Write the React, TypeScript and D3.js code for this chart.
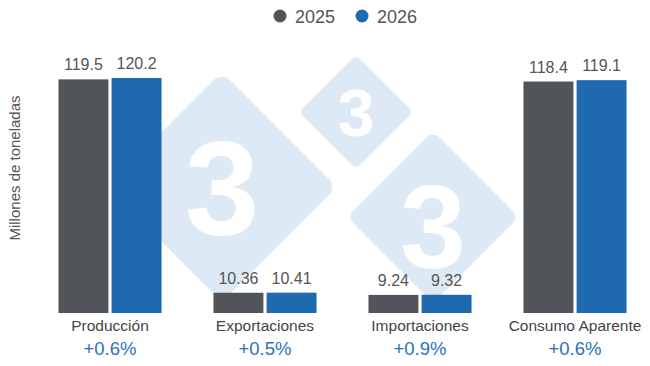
import React, { useEffect, useRef } from 'react'
import * as d3 from 'd3'

const categories = ['Producción', 'Exportaciones', 'Importaciones', 'Consumo Aparente']
const years = ['2025', '2026']
const values2025 = [119.5, 10.36, 9.24, 118.4]
const values2026 = [120.2, 10.41, 9.32, 119.1]
const changes = ['+0.6%', '+0.5%', '+0.9%', '+0.6%']
const labels2025 = ['119.5', '10.36', '9.24', '118.4']
const labels2026 = ['120.2', '10.41', '9.32', '119.1']

const colors = ['#515458', '#1f69af']
const font = 'Arial, "Liberation Sans", sans-serif'

// background logo (decoration only)
const logo = [
  { cx: 222, cy: 187, d: 115, size: 134, ty: 48 },
  { cx: 356, cy: 112, d: 57, size: 66, ty: 24 },
  { cx: 433, cy: 217, d: 86, size: 118, ty: 51 },
]

const App: React.FC = () => {
  const svgRef = useRef<SVGSVGElement | null>(null)

  useEffect(() => {
    if (!svgRef.current) return
    const svg = d3.select(svgRef.current)
    svg.selectAll('*').remove()

    const width = 650
    const height = 366
    const margin = { left: 32.5, right: -2.5, top: 78, bottom: 53 }

    svg.attr('width', width).attr('height', height).style('font-family', font)

    // watermark
    const wm = svg.append('g')
    logo.forEach(l => {
      const side = l.d * Math.SQRT2
      wm.append('rect')
        .attr('x', -side / 2)
        .attr('y', -side / 2)
        .attr('width', side)
        .attr('height', side)
        .attr('rx', side * 0.07)
        .attr('fill', '#dde9f4')
        .attr('transform', `translate(${l.cx},${l.cy}) rotate(45)`)
      wm.append('text')
        .attr('x', l.cx)
        .attr('y', l.cy + l.ty)
        .attr('text-anchor', 'middle')
        .attr('font-size', l.size)
        .attr('font-weight', 'bold')
        .attr('fill', '#fff')
        .text('3')
    })

    const data = categories.map((c, i) => ({
      cat: c,
      vals: [
        { year: years[0], v: values2025[i], label: labels2025[i] },
        { year: years[1], v: values2026[i], label: labels2026[i] },
      ],
      change: changes[i],
    }))

    const x0 = d3
      .scaleBand()
      .domain(categories)
      .range([margin.left, width - margin.right])
      .paddingInner(0.335)
      .paddingOuter(0.1675)
    const x1 = d3
      .scaleBand()
      .domain(years)
      .range([0, x0.bandwidth()])
      .paddingInner(0.06)
    const y = d3
      .scaleLinear()
      .domain([0, d3.max(values2026)!])
      .range([height - margin.bottom, margin.top])
    const color = d3.scaleOrdinal<string, string>().domain(years).range(colors)

    const groups = svg
      .append('g')
      .selectAll('g')
      .data(data)
      .join('g')
      .attr('transform', d => `translate(${x0(d.cat)},0)`)

    groups
      .selectAll('rect')
      .data(d => d.vals)
      .join('rect')
      .attr('x', d => x1(d.year)!)
      .attr('y', d => y(d.v))
      .attr('width', x1.bandwidth())
      .attr('height', d => y(0) - y(d.v))
      .attr('fill', d => color(d.year))

    groups
      .selectAll('text.val')
      .data(d => d.vals)
      .join('text')
      .attr('class', 'val')
      .attr('x', d => x1(d.year)! + x1.bandwidth() / 2)
      .attr('y', d => y(d.v) - 9)
      .attr('text-anchor', 'middle')
      .attr('font-size', 16)
      .attr('fill', '#555')
      .text(d => d.label)

    groups
      .append('text')
      .attr('x', x0.bandwidth() / 2)
      .attr('y', y(0) + 18)
      .attr('text-anchor', 'middle')
      .attr('font-size', 15.5)
      .attr('fill', '#444')
      .text(d => d.cat)

    groups
      .append('text')
      .attr('x', x0.bandwidth() / 2)
      .attr('y', y(0) + 42)
      .attr('text-anchor', 'middle')
      .attr('font-size', 18.5)
      .attr('fill', '#2b72b8')
      .text(d => d.change)

    // y axis title
    svg
      .append('text')
      .attr('transform', `translate(20,168) rotate(-90)`)
      .attr('text-anchor', 'middle')
      .attr('font-size', 15)
      .attr('fill', '#555')
      .text('Millones de toneladas')

    // legend
    const legend = svg
      .append('g')
      .selectAll('g')
      .data(years)
      .join('g')
      .attr('transform', (d, i) => `translate(${280 + i * 82},16)`)
    legend
      .append('circle')
      .attr('r', 6.5)
      .attr('fill', d => color(d))
    legend
      .append('text')
      .attr('x', 15)
      .attr('y', 6.5)
      .attr('font-size', 18)
      .attr('fill', '#555')
      .text(d => d)
  }, [])

  return (
    <div style={{ margin: -8 }}>
      <svg ref={svgRef}></svg>
    </div>
  )
}

export default App
